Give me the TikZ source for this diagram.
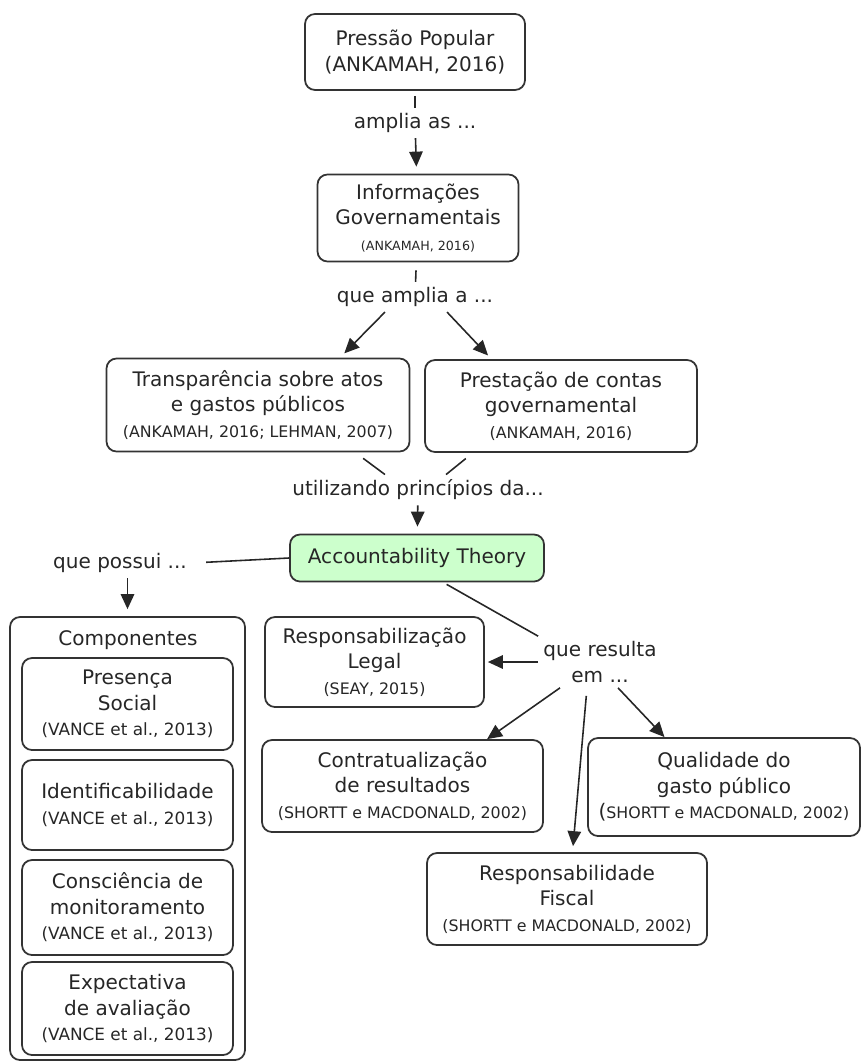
\documentclass[tikz,border=0pt]{standalone}
\usepackage{fontspec}
\setmainfont{DejaVu Sans}
\usetikzlibrary{arrows.meta,calc}
\definecolor{theorygreen}{HTML}{CCFFCC}
\newcommand{\reffont}{\fontsize{9.0}{11}\selectfont}
\newcommand{\reftiny}{\fontsize{7.2}{9}\selectfont}
\newcommand{\refmid}{\fontsize{9.6}{12}\selectfont}

\begin{document}
\begin{tikzpicture}[
  font=\fontsize{11.4}{14.5}\selectfont,
  box/.style={draw=black!80, line width=1pt, rounded corners=0.2cm, align=center, text=black!85, inner sep=2pt},
  linktext/.style={align=center, text=black!85, inner sep=0.1cm},
  link/.style={draw=black!85, line width=0.9pt},
  linkarrow/.style={link, -{Triangle[width=0.27cm,length=0.3cm]}}
]
  \useasboundingbox (0,0) rectangle (17.26,-21.28);
  % top chain
  \node[box, minimum width=4.40cm, minimum height=1.52cm] (pressao) at (8.30,-1.04) {Pressão Popular\\(ANKAMAH, 2016)};
  \node[linktext] (amplia) at (8.30,-2.46) {amplia as ...};
  \node[box, minimum width=4.02cm, minimum height=1.74cm] (info) at (8.36,-4.36) {Informações\\Governamentais\\{\reftiny (ANKAMAH, 2016)}};
  \node[linktext] (queamplia) at (8.30,-5.94) {que amplia a ...};
  \node[box, minimum width=6.06cm, minimum height=1.86cm] (transp) at (5.16,-8.10) {Transparência sobre atos\\e gastos públicos\\{\reffont (ANKAMAH, 2016; LEHMAN, 2007)}};
  \node[box, minimum width=5.44cm, minimum height=1.84cm] (prest) at (11.22,-8.12) {Prestação de contas\\governamental\\{\reffont (ANKAMAH, 2016)}};
  \node[linktext] (utilizando) at (8.36,-9.80) {utilizando princípios da...};
  \node[box, fill=theorygreen, minimum width=5.08cm, minimum height=0.94cm] (theory) at (8.34,-11.16) {Accountability Theory};
  % componentes
  \node[linktext] (possui) at (2.40,-11.26) {que possui ...};
  \node[box, minimum width=4.70cm, minimum height=8.86cm] (comp) at (2.55,-16.77) {};
  \node[linktext] (comptitle) at (2.56,-12.80) {Componentes};
  \node[box, minimum width=4.22cm, minimum height=1.84cm] (presenca) at (2.55,-14.08) {Presença\\Social\\{\refmid (VANCE et al., 2013)}};
  \node[box, minimum width=4.22cm, minimum height=1.80cm] (ident) at (2.55,-16.10) {Identificabilidade\\{\refmid (VANCE et al., 2013)}};
  \node[box, minimum width=4.22cm, minimum height=1.90cm] (consc) at (2.55,-18.15) {Consciência de\\monitoramento\\{\refmid (VANCE et al., 2013)}};
  \node[box, minimum width=4.22cm, minimum height=1.86cm] (expect) at (2.55,-20.17) {Expectativa\\de avaliação\\{\refmid (VANCE et al., 2013)}};
  % results
  \node[box, minimum width=4.38cm, minimum height=1.80cm] (resplegal) at (7.49,-13.24) {Responsabilização\\Legal\\{\reffont (SEAY, 2015)}};
  \node[linktext] (resulta) at (12.00,-13.24) {que resulta\\em ...};
  \node[box, minimum width=5.62cm, minimum height=1.84cm] (contrat) at (8.05,-15.72) {Contratualização\\de resultados\\{\reffont (SHORTT e MACDONALD, 2002)}};
  \node[box, minimum width=5.44cm, minimum height=1.96cm] (qualid) at (14.48,-15.74) {Qualidade do\\gasto público\\({\reffont SHORTT e MACDONALD, 2002)}};
  \node[box, minimum width=5.60cm, minimum height=1.84cm] (respfisc) at (11.34,-17.98) {Responsabilidade\\Fiscal\\{\reffont (SHORTT e MACDONALD, 2002)}};

  % connectors
  \draw[link, shorten <=0.1cm] (pressao) -- (amplia);
  \draw[linkarrow, shorten >=0.14cm] (amplia) -- (info);
  \draw[link, shorten <=0.16cm] (info) -- (queamplia);
  \draw[linkarrow, shorten >=0.12cm] ($(queamplia.south)+(-0.6,0)$) -- (transp.30);
  \draw[linkarrow, shorten >=0.1cm] ($(queamplia.south)+(0.64,0)$) -- (prest.146);
  \draw[link, shorten <=0.2cm] (transp.-26) -- ($(utilizando.north)+(-0.66,0)$);
  \draw[link, shorten <=0.18cm] (prest.208) -- ($(utilizando.north)+(0.56,0)$);
  \draw[linkarrow, shorten >=0.14cm] (utilizando) -- (theory);
  \draw[link, shorten >=0.28cm] (theory.west) -- (possui.east);
  \draw[linkarrow, shorten >=0.14cm] (possui.south -| comp.north) -- (comp.north);
  \draw[link, shorten <=0.08cm] (theory.-43) -- (resulta.north west);
  \draw[linkarrow, shorten >=0.06cm] (resulta.west) -- (resplegal.east);
  \draw[linkarrow] ($(resulta.south)+(-0.8,0)$) -- (contrat.29);
  \draw[linkarrow] ($(resulta.south)+(0.36,0)$) -- (qualid.140);
  \draw[linkarrow, shorten <=0.16cm, shorten >=0.12cm] ($(resulta.south)+(-0.26,0)$) -- ($(respfisc.north)+(0.11,0)$);
\end{tikzpicture}
\end{document}
